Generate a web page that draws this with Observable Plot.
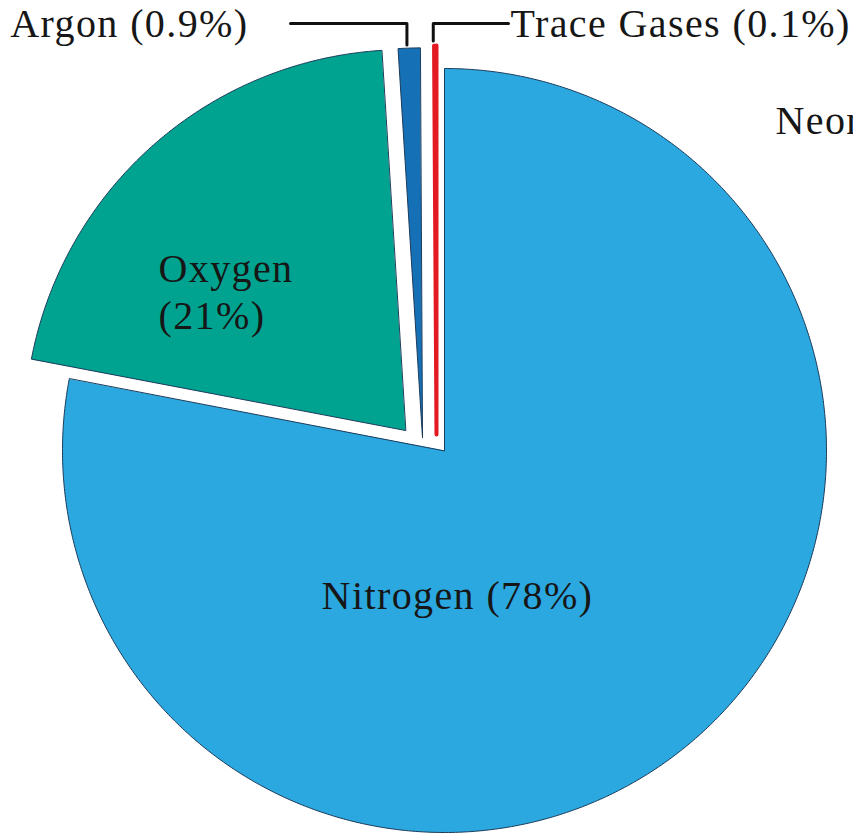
<!DOCTYPE html>
<html>
<head>
<meta charset="utf-8">
<script src="https://cdn.jsdelivr.net/npm/d3@7"></script>
<script src="https://cdn.jsdelivr.net/npm/@observablehq/plot@0.6"></script>
<style>
  html, body { margin: 0; padding: 0; background: #fff; overflow: hidden; }
</style>
</head>
<body>
<div id="chart"></div>
<script>
// ---- data ----
const gases = ["Nitrogen", "Oxygen", "Argon", "Trace Gases"];
const percents = [78, 21, 0.9, 0.1];
const labels = ["Nitrogen (78%)", "Oxygen\n(21%)", "Argon (0.9%)", "Trace Gases (0.1%)"];
const colors = ["#2ba8df", "#00a38f", "#1570b6", "#e31a22"];
const extraNote = ["Neon"];

// ---- layout / style ----
const W = 853, H = 834, R = 382, CX = 444, CY = 450;
const px = (dx) => dx / R; // pixel length -> unit length
// explode offsets (pixels) and radius factors per slice
const explode = {
  "Nitrogen": {dx: 0, dy: 0, r: 1.0},
  "Oxygen": {dx: -39, dy: -20, r: 0.997},
  "Argon": {dx: -22, dy: -13, r: 1.02},
  "Trace Gases": {dx: -8, dy: -16, r: 1.018}
};

const pie = d3.pie().sort(null).startAngle(0).endAngle(2 * Math.PI)(percents);

const slices = pie.map((p, i) => {
  const e = explode[gases[i]];
  const ox = px(e.dx), oy = -px(e.dy);
  const pts = [{x: ox, y: oy}];
  const n = Math.max(2, Math.ceil((p.endAngle - p.startAngle) / (Math.PI / 360)));
  for (let k = 0; k <= n; k++) {
    const a = p.startAngle + (p.endAngle - p.startAngle) * k / n;
    pts.push({x: ox + e.r * Math.sin(a), y: oy + e.r * Math.cos(a)});
  }
  const mid = (p.startAngle + p.endAngle) / 2;
  return {name: gases[i], label: labels[i], color: colors[i], pts, ox, oy, r: e.r, mid};
});

const polar = (s, angDeg, rf) => {
  const a = angDeg * Math.PI / 180;
  return {x: s.ox + rf * Math.sin(a), y: s.oy + rf * Math.cos(a)};
};

const sN = slices[0], sO = slices[1], sA = slices[2], sT = slices[3];

// label anchors
const labelY = px(CY - 24);
const nLab = {...polar(sN, 174.9, 0.382), text: sN.label};
const oLab = {...polar(sO, 299.5, 0.743), text: sO.label};
const aLab = {x: px(248 - CX), y: labelY, text: sA.label};
const tLab = {x: px(510 - CX), y: labelY, text: sT.label};
const neonLab = {x: px(775 - CX), y: px(CY - 121), text: extraNote[0]};

// leader lines from slice tips up to label row
const tipOf = (s, gap) => ({x: s.ox + (s.r + gap) * Math.sin(s.mid), y: s.oy + (s.r + gap) * Math.cos(s.mid)});
const aTip = tipOf(sA, 0.008);
const tTip = tipOf(sT, 0.012);
const leaderY = px(CY - 23);
const aLeader = [{x: aTip.x - px(2), y: aTip.y}, {x: aTip.x - px(2), y: leaderY}, {x: aLab.x + px(42), y: leaderY}];
const tLeader = [{x: tTip.x - px(2), y: tTip.y}, {x: tTip.x - px(2), y: leaderY}, {x: tLab.x - px(2), y: leaderY}];

const sliceMarks = slices.map(s => Plot.line(s.pts, {
  x: "x", y: "y", curve: "linear-closed",
  fill: s.color,
  stroke: s.name === "Trace Gases" ? s.color : "#1c3c5c",
  strokeWidth: s.name === "Trace Gases" ? 4 : 1,
  strokeLinejoin: "round"
}));

const textStyle = {fontSize: 40, fill: "#161616"};

const chart = Plot.plot({
  width: W, height: H,
  margin: 0,
  x: {domain: [-CX / R, (W - CX) / R], range: [0, W], axis: null},
  y: {domain: [-(H - CY) / R, CY / R], range: [H, 0], axis: null},
  style: {fontFamily: "'Palatino Linotype', 'Book Antiqua', Palatino, 'Liberation Serif', serif", letterSpacing: "1.4px", background: "#fff"},
  marks: [
    ...sliceMarks,
    Plot.line(aLeader, {x: "x", y: "y", stroke: "#111", strokeWidth: 3}),
    Plot.line(tLeader, {x: "x", y: "y", stroke: "#111", strokeWidth: 3}),
    Plot.text([nLab], {x: "x", y: "y", text: "text", textAnchor: "middle", lineAnchor: "middle", ...textStyle}),
    Plot.text([oLab], {x: "x", y: "y", text: "text", textAnchor: "start", lineAnchor: "middle", lineHeight: 1.18, ...textStyle}),
    Plot.text([aLab], {x: "x", y: "y", text: "text", textAnchor: "end", lineAnchor: "middle", ...textStyle}),
    Plot.text([tLab], {x: "x", y: "y", text: "text", textAnchor: "start", lineAnchor: "middle", ...textStyle}),
    Plot.text([neonLab], {x: "x", y: "y", text: "text", textAnchor: "start", lineAnchor: "middle", ...textStyle})
  ]
});
document.getElementById("chart").appendChild(chart);
</script>
</body>
</html>
